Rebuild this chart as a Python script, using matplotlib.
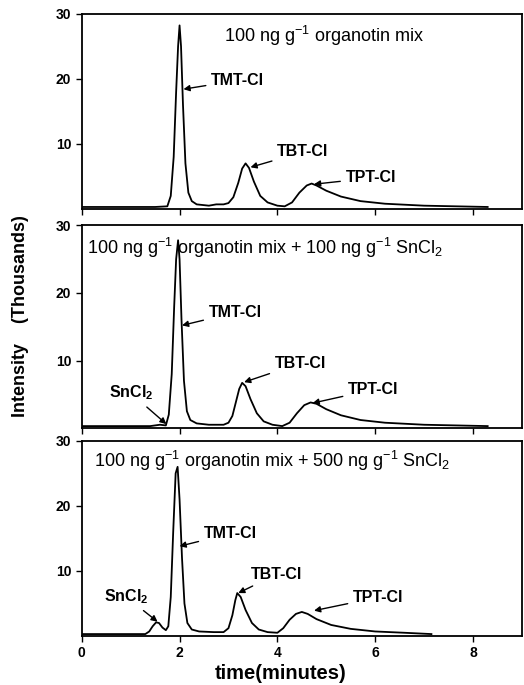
import matplotlib
matplotlib.use("Agg")
import matplotlib.pyplot as plt

plt.rcParams['font.family'] = ['Liberation Sans', 'DejaVu Sans']
plt.rcParams['mathtext.default'] = 'regular'

# ---- chromatogram traces (time in min, intensity in thousands)
t1 = [0.0, 1.5, 1.75, 1.82, 1.88, 1.93, 1.97, 2.0, 2.03, 2.07, 2.12, 2.18, 2.25, 2.35,
      2.6, 2.75, 2.9, 3.0, 3.1, 3.2, 3.28, 3.35, 3.42, 3.52, 3.65, 3.8, 4.0, 4.15,
      4.3, 4.45, 4.6, 4.7, 4.8, 5.0, 5.3, 5.7, 6.2, 7.0, 8.3]
y1 = [0.3, 0.3, 0.4, 2.0, 8.0, 18.0, 25.0, 28.2, 25.0, 16.0, 7.0, 2.5, 1.2, 0.7,
      0.5, 0.7, 0.7, 0.9, 1.8, 4.0, 6.2, 7.0, 6.3, 4.2, 2.0, 1.0, 0.5, 0.4,
      1.0, 2.5, 3.6, 3.9, 3.6, 2.8, 1.9, 1.2, 0.8, 0.5, 0.3]

t2 = [0.0, 1.4, 1.6, 1.72, 1.78, 1.84, 1.89, 1.93, 1.97, 2.0, 2.04, 2.09, 2.15, 2.22,
      2.35, 2.6, 2.9, 3.0, 3.08, 3.15, 3.22, 3.28, 3.35, 3.45, 3.58, 3.72, 3.9, 4.1,
      4.25, 4.4, 4.55, 4.68, 4.8, 5.0, 5.3, 5.7, 6.2, 7.0, 8.3]
y2 = [0.3, 0.3, 0.5, 0.4, 2.0, 8.0, 18.0, 25.0, 27.8, 25.0, 16.0, 7.0, 2.5, 1.2,
      0.7, 0.5, 0.5, 0.8, 1.8, 3.8, 5.8, 6.7, 6.2, 4.3, 2.2, 1.0, 0.5, 0.3,
      0.8, 2.2, 3.4, 3.8, 3.6, 2.8, 1.9, 1.2, 0.8, 0.5, 0.3]

t3 = [0.0, 1.3, 1.38, 1.45, 1.52, 1.58, 1.65, 1.72, 1.77, 1.82, 1.87, 1.92, 1.96, 2.0,
      2.05, 2.1, 2.16, 2.25, 2.4, 2.7, 2.9, 3.0, 3.08, 3.14, 3.18, 3.25, 3.35, 3.48,
      3.62, 3.8, 4.0, 4.12, 4.25, 4.38, 4.5, 4.62, 4.8, 5.1, 5.5, 6.0, 6.6, 7.15]
y3 = [0.3, 0.3, 0.7, 1.5, 2.1, 2.0, 1.3, 0.9, 1.5, 6.0, 16.0, 25.0, 26.0, 21.0,
      12.0, 5.0, 2.0, 1.0, 0.7, 0.6, 0.6, 1.2, 3.2, 5.5, 6.6, 6.0, 4.0, 2.0,
      1.0, 0.6, 0.5, 1.2, 2.5, 3.4, 3.7, 3.4, 2.6, 1.7, 1.1, 0.7, 0.5, 0.3]

titles = [r"100 ng g$^{-1}$ organotin mix",
          r"100 ng g$^{-1}$ organotin mix + 100 ng g$^{-1}$ SnCl$_2$",
          r"100 ng g$^{-1}$ organotin mix + 500 ng g$^{-1}$ SnCl$_2$"]
title_pos = [(2.9, 26.6), (0.1, 26.6), (0.25, 26.9)]

# (label, arrow tip, text position)
labels1 = [("TMT-Cl", (2.08, 18.4), (2.65, 18.6)),
           ("TBT-Cl", (3.45, 6.4), (4.0, 7.6)),
           ("TPT-Cl", (4.75, 3.8), (5.4, 3.6))]
labels2 = [("SnCl$_2$", (1.73, 0.6), (0.55, 3.8)),
           ("TMT-Cl", (2.05, 15.2), (2.6, 16.0)),
           ("TBT-Cl", (3.32, 6.8), (3.95, 8.5)),
           ("TPT-Cl", (4.72, 3.7), (5.45, 4.6))]
labels3 = [("SnCl$_2$", (1.55, 2.2), (0.45, 4.6)),
           ("TMT-Cl", (2.0, 13.8), (2.5, 14.6)),
           ("TBT-Cl", (3.2, 6.6), (3.45, 8.3)),
           ("TPT-Cl", (4.75, 3.9), (5.55, 4.8))]

traces = [(t1, y1), (t2, y2), (t3, y3)]
all_labels = [labels1, labels2, labels3]

fig = plt.figure(figsize=(5.24, 6.85), dpi=100)
boxes = [[0.156, 0.695, 0.84, 0.285],
         [0.156, 0.375, 0.84, 0.296],
         [0.156, 0.0715, 0.84, 0.285]]

for i, (box, (t, y)) in enumerate(zip(boxes, traces)):
    ax = fig.add_axes(box)
    ax.plot(t, y, color="black", lw=1.3)
    ax.set_xlim(0, 9.0)
    ax.set_ylim(0, 30)
    ax.set_yticks([10, 20, 30])
    ax.set_xticks([0, 2, 4, 6, 8])
    ax.tick_params(direction="out", length=4, width=1.0, labelsize=10)
    for lab in ax.get_yticklabels() + ax.get_xticklabels():
        lab.set_fontweight("bold")
    if i < 2:
        ax.tick_params(axis="x", labelbottom=False)
    for s in ax.spines.values():
        s.set_linewidth(1.3)
    ax.text(*title_pos[i], titles[i], fontsize=13, va="center", ha="left")
    for name, tip, pos in all_labels[i]:
        ax.annotate(name, xy=tip, xytext=pos, fontsize=11.5, fontweight="bold",
                    va="bottom", ha="left",
                    arrowprops=dict(arrowstyle="-|>", color="black", lw=1.0,
                                    shrinkA=2, shrinkB=0, mutation_scale=9))

fig.text(0.04, 0.539, "Intensity    (Thousands)", rotation=90, fontsize=13,
         fontweight="bold", ha="center", va="center")
fig.text(0.535, 0.003, "time(minutes)", fontsize=14.5, fontweight="bold",
         ha="center", va="bottom")

fig.savefig("out.png", dpi=100)
